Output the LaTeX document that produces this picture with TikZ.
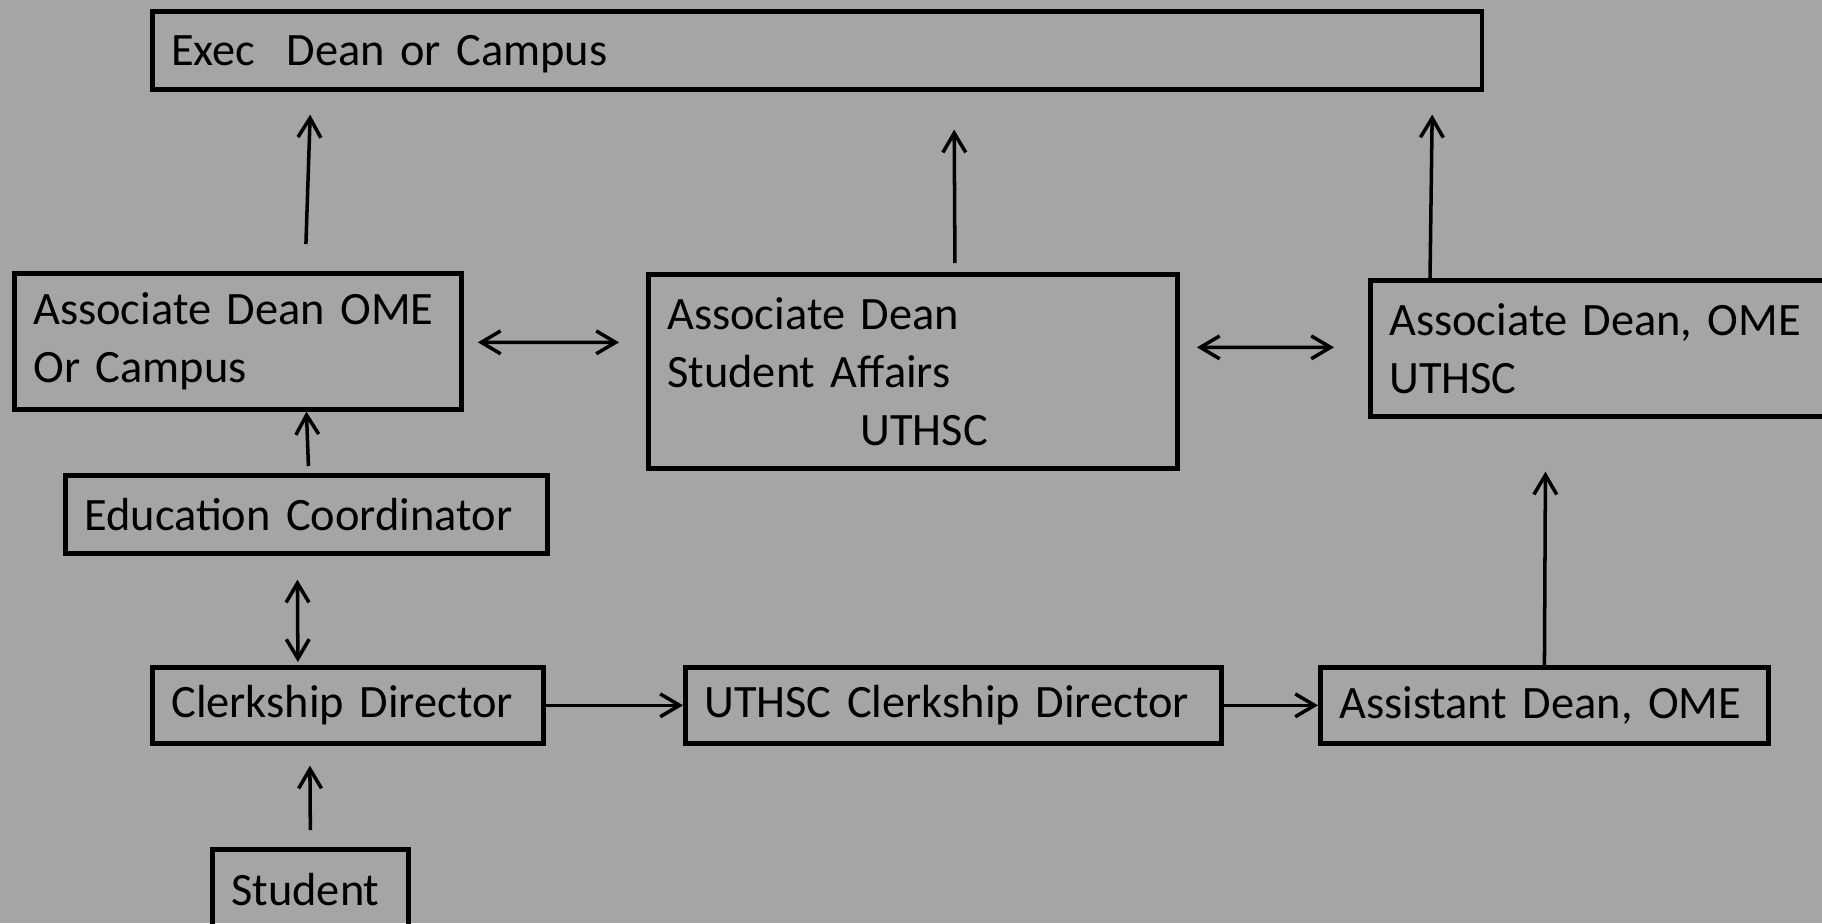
\documentclass[tikz,border=0pt]{standalone}
\usepackage{fontspec}
\setmainfont{Carlito}
\usetikzlibrary{arrows.meta,calc}

\definecolor{slide}{HTML}{A5A5A5}

\begin{document}
\begin{tikzpicture}
[
  x=0.01cm, y=-0.01cm,
  unit/.style={draw, line width=1.3pt, anchor=north west, align=left,
    inner xsep=0.19cm, inner ysep=0pt},
  link/.style={-{Straight Barb[length=5.5pt,width=6.5pt,line width=1pt]}, line width=1pt},
  both/.style={{Straight Barb[length=5.5pt,width=6.5pt,line width=1pt]}-{Straight Barb[length=5.5pt,width=6.5pt,line width=1pt]}, line width=1pt},
  font=\fontsize{13.2pt}{16.5pt}\selectfont
]
 \useasboundingbox (0,0) rectangle (1822,923);
 \clip (0,0) rectangle (1822,923);
 \fill[slide] (0,0) rectangle (1822,923);

 % top row
 \node[unit, text width=12.91cm, minimum height=0.78cm] (exec) at (150,9) {\rule{0pt}{0.8em}\mbox{Exec\ \ Dean or Campus}};

 % middle row
 \node[unit, text width=4.09cm, minimum height=1.36cm] (assocome) at (12,271) {\mbox{Associate Dean OME}\\Or Campus};
 \node[unit, text width=4.91cm, minimum height=1.94cm] (affairs) at (646,272) {Associate Dean\\Student Affairs\\\hspace*{1.93cm}UTHSC};
 \node[unit, text width=4.64cm, minimum height=1.36cm] (assocuthsc) at (1368,278) {\mbox{Associate Dean, OME}\\UTHSC};

 \node[unit, text width=4.44cm, minimum height=0.78cm] (educ) at (63,473) {\mbox{Education Coordinator}};

 % bottom row
 \node[unit, text width=3.53cm, minimum height=0.76cm] (clerk) at (150,665) {\mbox{Clerkship Director}};
 \node[unit, text width=4.98cm, minimum height=0.76cm] (uclerk) at (683,665) {\mbox{UTHSC Clerkship Director}};
 \node[unit, text width=4.10cm, minimum height=0.76cm] (asst) at (1318,665) {\mbox{Assistant Dean, OME}};
 \node[unit, text width=1.58cm, minimum height=0.80cm] (student) at (210,847) {Student};

 % up to the exec box
 \draw[link] ($(assocome.north)+(68,-27)$) -- ($(exec.south)+(-507,23)$);
 \draw[link] ($(affairs.north)+(42,-9)$) -- ($(exec.south)+(137,38)$);
 \draw[link] ($(assocuthsc.north west)+(62,0)$) -- ($(exec.south)+(615,23)$);

 % side links
 \draw[both] ($(assocome.east)+(14,1)$) -- ($(affairs.west)+(-27,-29)$);
 \draw[both] ($(affairs.east)+(17,-24)$) -- ($(assocuthsc.west)+(-34,-1)$);

 \draw[link] ($(educ.north)+(2,-7)$) -- (educ.north |- assocome.south);
 \draw[both] ($(educ.south)+(-9,24)$) -- ($(clerk.north)+(-50,-3)$);
 \draw[link] ($(student.north)+(0,-17)$) -- ($(clerk.south)+(-38,20)$);

 \draw[link] (clerk) -- (uclerk);
 \draw[link] (uclerk) -- (asst);
 \draw[link] (asst.north) -- ($(assocuthsc.south)+(-76,53)$);
\end{tikzpicture}
\end{document}
